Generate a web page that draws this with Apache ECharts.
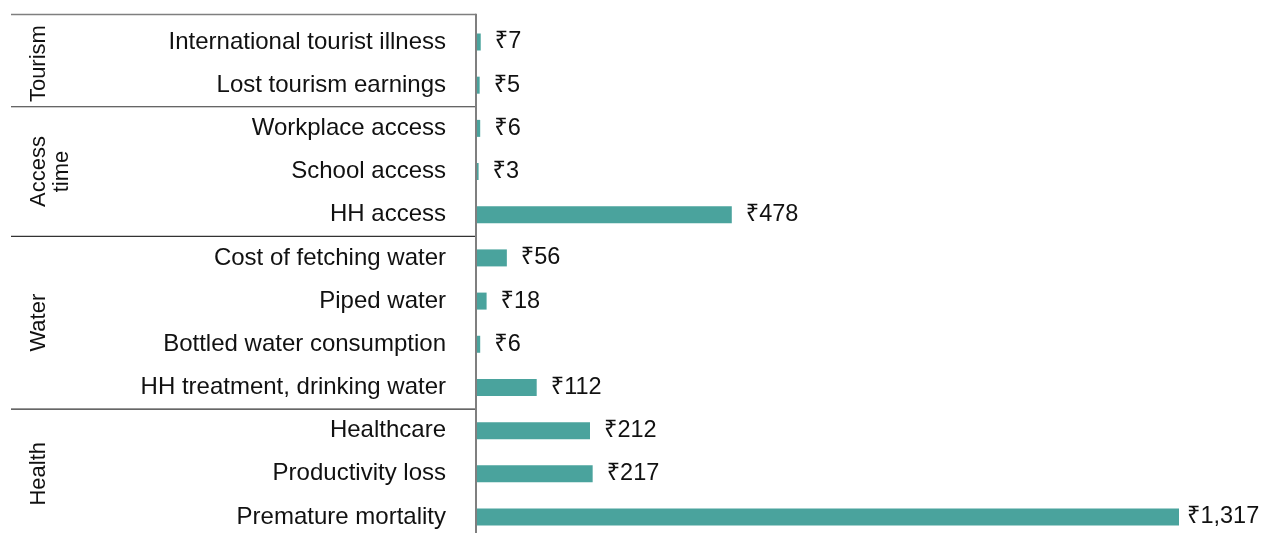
<!DOCTYPE html>
<html>
<head>
<meta charset="utf-8">
<script src="https://cdn.jsdelivr.net/npm/echarts@6/dist/echarts.min.js"></script>
<style>
  html, body { margin: 0; padding: 0; background: #fff; }
  #chart { width: 1263px; height: 533px; }
</style>
</head>
<body>
<div id="chart"></div>
<script>
  // rows, top to bottom
  var categories = [
    'International tourist illness', 'Lost tourism earnings',
    'Workplace access', 'School access', 'HH access',
    'Cost of fetching water', 'Piped water', 'Bottled water consumption', 'HH treatment, drinking water',
    'Healthcare', 'Productivity loss', 'Premature mortality'
  ]
  var values = [7, 5, 6, 3, 478, 56, 18, 6, 112, 212, 217, 1317]
  // group name + how many rows it covers
  var groupNames = ['Tourism', 'Access\ntime', 'Water', 'Health']
  var groupSizes = [2, 3, 4, 3]

  var FONT = '"Liberation Sans", Arial, "Noto Sans", "DejaVu Sans", sans-serif'
  var myChart = echarts.init(document.getElementById('chart'))

  var maxVal = Math.max.apply(null, values)

  var option = {
    animation: false,
    grid: {
      left: 477,
      width: 702,
      top: 42,
      height: 475
    },
    xAxis: {
      type: 'value',
      min: 0,
      max: maxVal,
      show: false
    },
    yAxis: {
      type: 'category',
      inverse: true,
      boundaryGap: false,
      data: categories,
      axisLine: { show: false },
      axisTick: { show: false },
      splitLine: { show: false },
      axisLabel: {
        margin: 31,
        fontSize: 24,
        fontFamily: FONT,
        color: '#111'
      }
    },
    series: [{
      type: 'bar',
      // 最长的那根标签贴近一点，避免被裁掉
      data: values.map(function (v) {
        return v === maxVal ? { value: v, label: { distance: 8 } } : v
      }),
      barWidth: 17,
      itemStyle: { color: '#4aa39d' },
      label: {
        show: true,
        position: 'right',
        distance: 14,
        fontSize: 23.5,
        fontFamily: FONT,
        color: '#111',
        formatter: function (p) {
          return '₹' + p.value.toLocaleString('en-US')
        }
      }
    }]
  }
  myChart.setOption(option)

  // 分组线和分组标题
  var c0 = myChart.convertToPixel({ yAxisIndex: 0 }, 0)
  var c1 = myChart.convertToPixel({ yAxisIndex: 0 }, 1)
  var band = c1 - c0
  var axisX = myChart.convertToPixel({ xAxisIndex: 0 }, 0) - 1
  var topY = c0 - band / 2 - 6
  var els = []

  els.push({
    type: 'line', silent: true,
    shape: { x1: 11, y1: topY, x2: axisX, y2: topY },
    style: { stroke: '#7f7f7f', lineWidth: 1.5 }
  })

  var start = 0
  groupSizes.forEach(function (n, i) {
    var first = myChart.convertToPixel({ yAxisIndex: 0 }, start)
    var last = myChart.convertToPixel({ yAxisIndex: 0 }, start + n - 1)
    els.push({
      type: 'text', silent: true,
      x: 27, y: (first + last) / 2,
      rotation: Math.PI / 2,
      style: {
        text: groupNames[i],
        font: '22px ' + FONT,
        fill: '#111',
        align: 'center',
        verticalAlign: 'top',
        lineHeight: 23
      }
    })
    if (i > 0) {
      var y = first - band / 2
      els.push({
        type: 'line', silent: true,
        shape: { x1: 11, y1: y, x2: axisX, y2: y },
        style: { stroke: '#333', lineWidth: 1.2 }
      })
    }
    start += n
  })

  els.push({
    type: 'line', silent: true, z: 10,
    shape: { x1: axisX, y1: topY - 0.75, x2: axisX, y2: 540 },
    style: { stroke: '#7f7f7f', lineWidth: 2 }
  })

  myChart.setOption({ graphic: els })
</script>
</body>
</html>
